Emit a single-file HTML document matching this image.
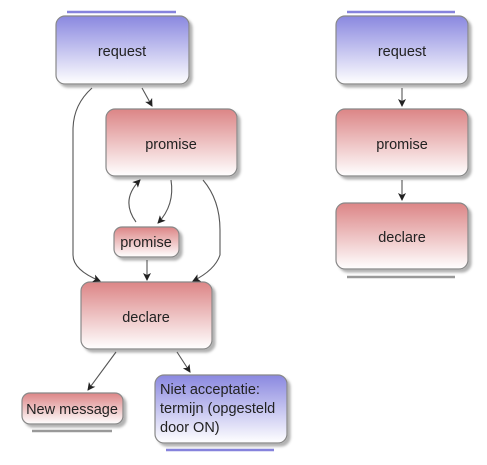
<!DOCTYPE html><html><head><style>
body{margin:0;width:487px;height:460px;background:#fff;overflow:hidden;font-family:"Liberation Sans",sans-serif}
</style></head><body>
<svg width="487" height="460" xmlns="http://www.w3.org/2000/svg">
<defs>
<linearGradient id="b" x1="0" y1="0" x2="0" y2="1"><stop offset="0" stop-color="#8a88e0"/><stop offset="1" stop-color="#ffffff"/></linearGradient>
<linearGradient id="r" x1="0" y1="0" x2="0" y2="1"><stop offset="0" stop-color="#dc8586"/><stop offset="1" stop-color="#ffffff"/></linearGradient>
<filter id="s" x="-10%" y="-10%" width="130%" height="130%"><feDropShadow dx="3" dy="3" stdDeviation="1.2" flood-color="#000" flood-opacity="0.3"/></filter>
<marker id="a" markerWidth="8" markerHeight="8" refX="7" refY="4" orient="auto" markerUnits="userSpaceOnUse"><path d="M0,0 L8,4 L0,8 L2,4z" fill="#222"/></marker>
</defs>
<g stroke="#888" stroke-width="1.2" filter="url(#s)">
<rect x="56" y="16" width="133" height="68" rx="9" fill="url(#b)"/>
<rect x="106" y="109" width="131" height="67" rx="9" fill="url(#r)"/>
<rect x="114" y="227" width="65" height="30" rx="8" fill="url(#r)"/>
<rect x="81" y="282" width="131" height="67" rx="9" fill="url(#r)"/>
<rect x="22" y="393" width="101" height="31" rx="8" fill="url(#r)"/>
<rect x="155" y="375" width="132" height="68" rx="9" fill="url(#b)"/>
<rect x="336" y="16" width="132" height="68" rx="9" fill="url(#b)"/>
<rect x="336" y="109" width="132" height="67" rx="9" fill="url(#r)"/>
<rect x="336" y="203" width="132" height="66" rx="9" fill="url(#r)"/>
</g>
<g stroke="#8683dc" stroke-width="2.5"><line x1="67" y1="12" x2="176" y2="12"/><line x1="347" y1="12" x2="455" y2="12"/><line x1="166" y1="450" x2="274" y2="450"/></g>
<g stroke="#999" stroke-width="2.5"><line x1="32" y1="431" x2="112" y2="431"/><line x1="347" y1="277" x2="455" y2="277"/></g>
<g stroke="#555" stroke-width="1.1" fill="none" marker-end="url(#a)">
<path d="M142,88 L152,106"/>
<path d="M92,88 Q73,105 73,130 L73,255 Q73,270 100,281"/>
<path d="M136,222 Q120,200 140,180"/>
<path d="M171,180 Q175,205 158,223"/>
<path d="M203,180 Q220,200 220,230 L220,255 Q215,270 193,281"/>
<path d="M147,260 L147,280"/>
<path d="M116,352 L88,390"/>
<path d="M177,352 L190,372"/>
<path d="M402,88 L402,106"/>
<path d="M402,180 L402,200"/>
</g>
<g font-size="14.5" fill="#222" text-anchor="middle">
<text x="122" y="56">request</text>
<text x="171" y="149">promise</text>
<text x="146" y="247">promise</text>
<text x="146" y="322">declare</text>
<text x="72" y="414">New message</text>
<text x="402" y="56">request</text>
<text x="402" y="149">promise</text>
<text x="402" y="242">declare</text>
</g>
<g font-size="14.5" fill="#222"><text x="160" y="394">Niet acceptatie:</text><text x="160" y="413">termijn (opgesteld</text><text x="160" y="432">door ON)</text></g>
</svg>
</body></html>
